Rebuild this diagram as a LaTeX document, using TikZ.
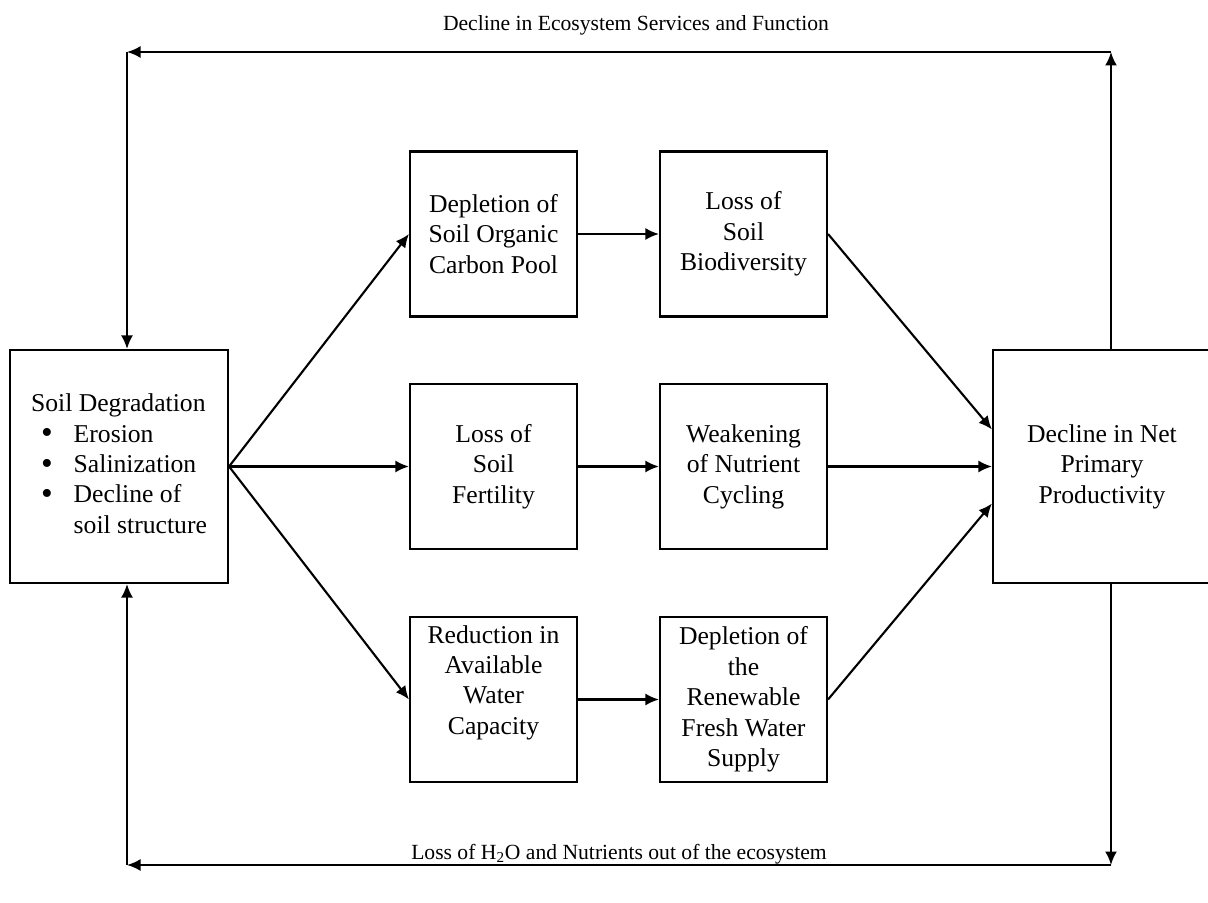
\documentclass[tikz,border=0pt]{standalone}
\usepackage{fontspec}
\setmainfont{Liberation Serif}
\usetikzlibrary{arrows.meta, positioning, calc}

\begin{document}
\begin{tikzpicture}[node distance=5cm, auto, >=stealth]
    % Styles
    \tikzstyle{stage} = [rectangle, draw, line width=1.2pt, minimum width=3.34cm, minimum height=3.3cm, align=center, inner sep=2pt, font=\fontsize{14.6}{17.3}\selectfont]
    \tikzstyle{endbox} = [stage, minimum width=4.36cm, minimum height=4.66cm]
    \tikzstyle{arrow} = [draw, -{Latex[length=2.7mm, width=2.4mm]}, line width=1.2pt]
    \tikzstyle{caption} = [font=\fontsize{12.3}{15}\selectfont]

    % Canvas
    \useasboundingbox (-2.38,9.33) rectangle (21.78,-8.71);
    \clip (-2.38,9.33) rectangle (21.78,-8.71);

    % Nodes
    \node[endbox] (soil) {\begin{tabular}{@{\hspace{0.2cm}}l@{\hspace{0.42cm}}l@{}}
        \multicolumn{2}{@{}l@{}}{Soil Degradation}\\
        \raisebox{-1pt}{\fontsize{19}{17}\selectfont\textbullet} & Erosion\\
        \raisebox{-1pt}{\fontsize{19}{17}\selectfont\textbullet} & Salinization\\
        \raisebox{-1pt}{\fontsize{19}{17}\selectfont\textbullet} & Decline of\\
                    & soil structure
    \end{tabular}};
    \node[stage, right of=soil, node distance=7.49cm] (fert) {Loss of\\ Soil\\ Fertility};
    \node[stage, above of=fert, node distance=4.65cm] (soc) {Depletion of\\ Soil Organic\\ Carbon Pool};
    \node[stage, below of=fert, node distance=4.66cm] (water) {Reduction in\\ Available\\ Water\\ Capacity\\ \strut};
    \node[stage, right of=fert] (weak) {Weakening\\ of Nutrient\\ Cycling};
    \node[stage, right of=soc] (bio) {Loss of\\ Soil\\ Biodiversity};
    \node[stage, right of=water] (fresh) {Depletion of\\ the\\ Renewable\\ Fresh Water\\ Supply};
    \node[endbox, right of=weak, node distance=7.17cm] (npp) {Decline in Net\\ Primary\\ Productivity};

    % Feedback corners
    \coordinate (tl) at (0.16,8.29);
    \coordinate (tr) at (19.84,8.29);
    \coordinate (bl) at (0.16,-7.97);
    \coordinate (br) at (19.84,-7.97);

    % Edges
    \draw[arrow] (soil.east) -- (soc.west);
    \draw[arrow] (soil.east) -- (fert.west);
    \draw[arrow] (soil.east) -- (water.west);
    \draw[arrow] (soc) -- (bio);
    \draw[arrow] (fert) -- (weak);
    \draw[arrow] (water) -- (fresh);
    \draw[arrow] (bio.east) -- ($(npp.west)+(0,0.74)$);
    \draw[arrow] (weak) -- (npp);
    \draw[arrow] (fresh.east) -- ($(npp.west)+(0,-0.74)$);

    % Top loop
    \draw[arrow] (tr |- npp.north) -- (tr);
    \draw[arrow] (tr) -- (tl);
    \draw[arrow] (tl) -- (tl |- soil.north);
    \node[caption] (services) at (10.34,8.83) {Decline in Ecosystem Services and Function};

    % Bottom loop
    \draw[arrow] (br |- npp.south) -- (br);
    \draw[arrow] (br) -- node[caption, midway, above, inner sep=0pt] (losses) {Loss of H\textsubscript{2}O and Nutrients out of the ecosystem} (bl);
    \draw[arrow] (bl) -- (bl |- soil.south);

\end{tikzpicture}
\end{document}
